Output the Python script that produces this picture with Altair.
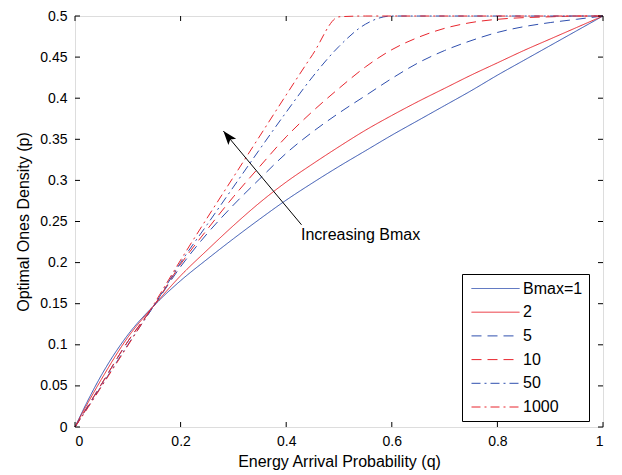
import altair as alt
import pandas as pd

# ---------------- data ----------------
q = [0, 0.025, 0.05, 0.1, 0.15, 0.2, 0.25, 0.3, 0.35, 0.4, 0.45, 0.5,
     0.55, 0.6, 0.65, 0.7, 0.75, 0.8, 0.85, 0.9, 0.95, 1.0]

p_bmax1 = [0, 0.033, 0.063, 0.112, 0.148, 0.178, 0.204, 0.229, 0.253, 0.276, 0.297,
           0.317, 0.336, 0.355, 0.373, 0.391, 0.409, 0.428, 0.446, 0.464, 0.482, 0.5]
p_bmax2 = [0, 0.030, 0.058, 0.109, 0.148, 0.184, 0.215, 0.245, 0.273, 0.298, 0.320,
           0.341, 0.361, 0.379, 0.396, 0.412, 0.428, 0.443, 0.458, 0.472, 0.486, 0.5]
p_bmax5 = [0, 0.026, 0.052, 0.104, 0.148, 0.195, 0.235, 0.270, 0.302, 0.333, 0.359,
           0.382, 0.403, 0.424, 0.443, 0.458, 0.470, 0.480, 0.487, 0.492, 0.496, 0.5]
p_bmax10 = [0, 0.026, 0.052, 0.104, 0.148, 0.198, 0.240, 0.280, 0.317, 0.353, 0.384,
            0.412, 0.438, 0.459, 0.474, 0.485, 0.492, 0.496, 0.498, 0.499, 0.5, 0.5]
p_bmax50 = [0, 0.025, 0.050, 0.100, 0.148, 0.200, 0.246, 0.292, 0.338, 0.383, 0.426,
            0.463, 0.490, 0.5, 0.5, 0.5, 0.5, 0.5, 0.5, 0.5, 0.5, 0.5]
p_bmax1000 = [0, 0.024, 0.049, 0.099, 0.150, 0.203, 0.254, 0.304, 0.354, 0.404, 0.453,
              0.499, 0.5, 0.5, 0.5, 0.5, 0.5, 0.5, 0.5, 0.5, 0.5, 0.5]

series_labels = ["Bmax=1", "2", "5", "10", "50", "1000"]
series_values = [p_bmax1, p_bmax2, p_bmax5, p_bmax10, p_bmax50, p_bmax1000]

x_ticks = [0, 0.2, 0.4, 0.6, 0.8, 1.0]
y_ticks = [0, 0.05, 0.1, 0.15, 0.2, 0.25, 0.3, 0.35, 0.4, 0.45, 0.5]

arrow_start = (0.429, 0.246)
arrow_tip = (0.281, 0.360)
annotation_text = "Increasing Bmax"
annotation_pos = (0.428, 0.234)

# ---------------- styling ----------------
BLUE = "#2f4fae"
RED = "#e8252d"
colors = [BLUE, RED, BLUE, RED, BLUE, RED]
dashes = [[1, 0], [1, 0], [10, 6], [10, 6], [9, 4, 2, 4], [9, 4, 2, 4]]
W, H = 528, 411
FONT = "Liberation Sans"

rows = []
for lab, vals in zip(series_labels, series_values):
    for qq, pp in zip(q, vals):
        rows.append({"series": lab, "q": qq, "p": pp})
df = pd.DataFrame(rows)

legend = alt.Legend(
    title=None, orient="none", legendX=387, legendY=258,
    symbolType="M-3,0H3", symbolSize=256, symbolStrokeWidth=1,
    labelFontSize=16, labelFont=FONT, labelColor="black", labelLimit=300,
    padding=6, strokeColor="black", fillColor="white", cornerRadius=0,
    rowPadding=6.7, symbolOffset=19, labelOffset=19,
)

xscale = alt.Scale(domain=[0, 1], nice=False, zero=False)
yscale = alt.Scale(domain=[0, 0.5], nice=False, zero=False)

xaxis = alt.Axis(values=x_ticks, format=".1~f", title="Energy Arrival Probability (q)",
                 ticks=False, domain=False, grid=False, labelPadding=7,
                 labelFontSize=14, titleFontSize=16, titlePadding=5,
                 labelFont=FONT, titleFont=FONT, titleFontWeight="normal",
                 labelColor="black", titleColor="black")
yaxis = alt.Axis(values=y_ticks, format=".2~f", title="Optimal Ones Density (p)",
                 ticks=False, domain=False, grid=False, labelPadding=8,
                 labelFontSize=14, titleFontSize=16, titlePadding=8,
                 labelFont=FONT, titleFont=FONT, titleFontWeight="normal",
                 labelColor="black", titleColor="black")

lines = alt.Chart(df).mark_line(strokeWidth=1, interpolate="monotone").encode(
    x=alt.X("q:Q", scale=xscale, axis=xaxis),
    y=alt.Y("p:Q", scale=yscale, axis=yaxis),
    color=alt.Color("series:N", scale=alt.Scale(domain=series_labels, range=colors),
                    sort=series_labels, legend=legend),
    strokeDash=alt.StrokeDash("series:N", scale=alt.Scale(domain=series_labels, range=dashes),
                              sort=series_labels, legend=legend),
)

xt = pd.DataFrame({"q": x_ticks})
yt = pd.DataFrame({"p": y_ticks})
tick_bottom = alt.Chart(xt).mark_rule(color="black", strokeWidth=1).encode(
    x=alt.X("q:Q", scale=xscale, axis=xaxis), y=alt.value(H), y2=alt.value(H - 5))
tick_top = alt.Chart(xt).mark_rule(color="black", strokeWidth=1).encode(
    x=alt.X("q:Q", scale=xscale, axis=xaxis), y=alt.value(0), y2=alt.value(5))
tick_left = alt.Chart(yt).mark_rule(color="black", strokeWidth=1).encode(
    y=alt.Y("p:Q", scale=yscale, axis=yaxis), x=alt.value(0), x2=alt.value(5))
tick_right = alt.Chart(yt).mark_rule(color="black", strokeWidth=1).encode(
    y=alt.Y("p:Q", scale=yscale, axis=yaxis), x=alt.value(W), x2=alt.value(W - 5))

arrow_df = pd.DataFrame({"q": [arrow_start[0]], "p": [arrow_start[1]],
                         "q1": [arrow_tip[0]], "p1": [arrow_tip[1]]})
arrow_line = alt.Chart(arrow_df).mark_rule(color="black", strokeWidth=1).encode(
    x=alt.X("q:Q", scale=xscale, axis=xaxis), y=alt.Y("p:Q", scale=yscale, axis=yaxis),
    x2="q1:Q", y2="p1:Q")
head_df = pd.DataFrame({"q": [arrow_tip[0]], "p": [arrow_tip[1]]})
arrow_head = alt.Chart(head_df).mark_point(
    shape="M0,0L0.36,1L0,0.78L-0.36,1Z", filled=True, color="black", opacity=1,
    size=784, angle=320.5, strokeWidth=0).encode(
    x=alt.X("q:Q", scale=xscale, axis=xaxis), y=alt.Y("p:Q", scale=yscale, axis=yaxis))

text_df = pd.DataFrame({"q": [annotation_pos[0]], "p": [annotation_pos[1]], "t": [annotation_text]})
annot = alt.Chart(text_df).mark_text(align="left", baseline="middle", fontSize=16,
                                     font=FONT, color="black").encode(
    x=alt.X("q:Q", scale=xscale, axis=xaxis), y=alt.Y("p:Q", scale=yscale, axis=yaxis),
    text="t:N")

chart = alt.layer(
    lines, tick_bottom, tick_top, tick_left, tick_right, arrow_line, arrow_head, annot
).properties(
    width=W, height=H,
    padding={"left": 67, "top": 8, "right": 11, "bottom": 48},
    autosize=alt.AutoSizeParams(type="none"),
).configure_view(stroke="black", strokeWidth=1).configure(background="white")

chart.save("out.html", embed_options={"renderer": "svg", "actions": False})
